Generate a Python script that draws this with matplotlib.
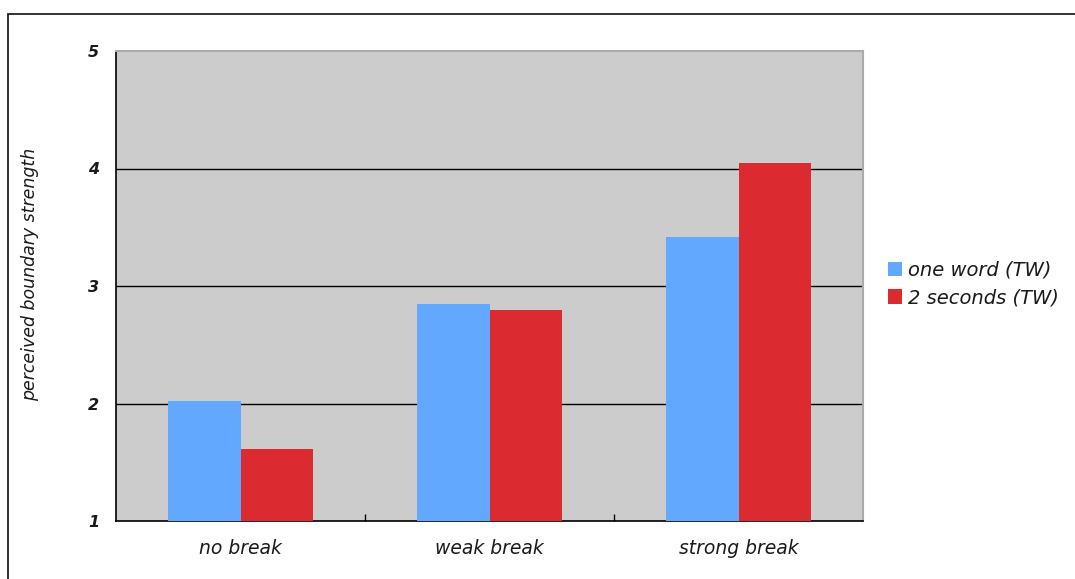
import matplotlib.pyplot as plt
import numpy as np
from matplotlib.patches import Rectangle

categories = ['no break', 'weak break', 'strong break']
series_names = ['one word (TW)', '2 seconds (TW)']
one_word = [2.02, 2.85, 3.42]
two_seconds = [1.61, 2.80, 4.05]
yticks = [1, 2, 3, 4, 5]
gridlines = [2, 3, 4]

colors = ['#62a8ff', '#dc2a31']
txt = '#1a1a1a'

fig = plt.figure(figsize=(10.75, 5.79), dpi=100)
fig.patch.set_facecolor('white')

# outer frame running off the right and bottom edges
fig.patches.append(Rectangle((8 / 1075, -0.1), 1.2, 1 - 14 / 579 + 0.1,
                             transform=fig.transFigure, fill=False,
                             edgecolor='#222222', linewidth=1.3))

ax = fig.add_axes([116 / 1075, 1 - 521 / 579, (863 - 116) / 1075, (521 - 51) / 579])
ax.set_facecolor('#cccccc')

x = np.arange(len(categories))
w = 0.29
ax.bar(x - w / 2, one_word, w, bottom=0, color=colors[0], label=series_names[0], zorder=3)
ax.bar(x + w / 2, two_seconds, w, bottom=0, color=colors[1], label=series_names[1], zorder=3)

ax.set_xlim(-0.5, 2.5)
ax.set_ylim(1, 5)
ax.set_yticks(yticks)
ax.set_yticklabels([str(v) for v in yticks], fontstyle='italic', fontsize=11.5,
                   fontweight='bold', color=txt)
ax.tick_params(axis='y', length=0, pad=12)
for g in gridlines:
    ax.axhline(g, color='black', linewidth=1.0, zorder=1)

# category labels centered, ticks between categories
ax.set_xticks([0.5, 1.5])
ax.set_xticklabels([])
ax.tick_params(axis='x', direction='in', length=5, width=1)
for i, c in enumerate(categories):
    ax.text(i, -0.058, c, transform=ax.get_xaxis_transform(), ha='center', va='center',
            fontstyle='italic', fontsize=13.5, color=txt)

ax.spines['top'].set_color('#aaaaaa')
ax.spines['right'].set_color('#aaaaaa')
ax.spines['top'].set_linewidth(1.5)
ax.spines['right'].set_linewidth(1.5)
ax.spines['left'].set_linewidth(1.2)
ax.spines['bottom'].set_linewidth(1.2)

ax.set_ylabel('perceived boundary strength', fontstyle='italic', fontsize=12.5, color=txt)
ax.yaxis.set_label_coords(-0.103, 0.525)

leg = fig.legend(loc='center left', bbox_to_anchor=(870 / 1075, 1 - 284 / 579),
                 frameon=False, handlelength=0.75, handleheight=0.75,
                 handletextpad=0.3, labelspacing=0.45, fontsize=14)
for t in leg.get_texts():
    t.set_fontstyle('italic')
    t.set_color(txt)

fig.savefig('out.png', dpi=100)
